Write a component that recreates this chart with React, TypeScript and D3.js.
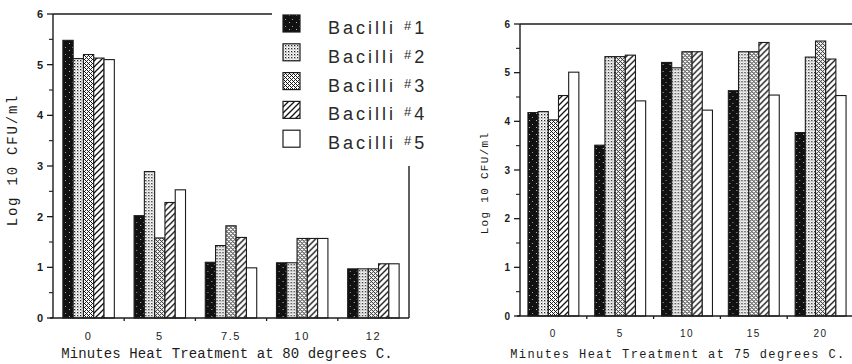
import React from 'react';
import * as d3 from 'd3';

// Series names and categories
const seriesNames = ['1', '2', '3', '4', '5'];
const minutes80 = ['0', '5', '7.5', '10', '12'];
const minutes75 = ['0', '5', '10', '15', '20'];
const yTicks = [0, 1, 2, 3, 4, 5, 6];

// Log 10 CFU/ml after heat treatment at 80 degrees C.
const bacilli1At80 = [5.48, 2.02, 1.10, 1.09, 0.97];
const bacilli2At80 = [5.12, 2.89, 1.43, 1.09, 0.97];
const bacilli3At80 = [5.20, 1.58, 1.82, 1.57, 0.97];
const bacilli4At80 = [5.13, 2.28, 1.59, 1.57, 1.07];
const bacilli5At80 = [5.10, 2.53, 0.99, 1.57, 1.07];

// Log 10 CFU/ml after heat treatment at 75 degrees C.
const bacilli1At75 = [4.18, 3.51, 5.21, 4.63, 3.77];
const bacilli2At75 = [4.20, 5.33, 5.10, 5.43, 5.32];
const bacilli3At75 = [4.03, 5.33, 5.43, 5.43, 5.65];
const bacilli4At75 = [4.53, 5.36, 5.43, 5.62, 5.28];
const bacilli5At75 = [5.01, 4.42, 4.23, 4.54, 4.53];

const INK = '#1c1c1c';
const fills = ['url(#pat1)', 'url(#pat2)', 'url(#pat3)', 'url(#pat4)', '#ffffff'];

type PanelProps = {
  cats: string[];
  series: number[][];
  x0: number;
  x1: number;
  yTop: number;
  yBottom: number;
  outerPad: number;
  yLabel: string;
  yLabelX: number;
  yLabelY: number;
  yLabelSize: number;
  yLabelSpacing: number;
  xTitle: string;
  xTitleX: number;
  xTitleY: number;
  xTitleSize: number;
  xTitleSpacing: number;
  tickFont: number;
  xTickY: number;
  rightBorderTop: number | null;
  topLineEnd: number;
};

function Panel(p: PanelProps) {
  const xBand = d3.scaleBand<string>().domain(p.cats).range([p.x0, p.x1]).padding(0);
  const xInner = d3
    .scaleBand<string>()
    .domain(seriesNames)
    .range([0, xBand.bandwidth()])
    .paddingInner(0)
    .paddingOuter(p.outerPad);
  const y = d3.scaleLinear().domain([0, 6]).range([p.yBottom, p.yTop]);
  const minor = d3.range(0.5, 6, 1);

  return (
    <g>
      {/* bars */}
      {p.cats.map((c, ci) => (
        <g key={c} transform={`translate(${xBand(c)},0)`}>
          {p.series.map((vals, si) => (
            <rect
              key={si}
              x={xInner(seriesNames[si])}
              y={y(vals[ci])}
              width={xInner.bandwidth()}
              height={y(0) - y(vals[ci])}
              fill={fills[si]}
              stroke={INK}
              strokeWidth={1.1}
            />
          ))}
        </g>
      ))}

      {/* frame */}
      <line x1={p.x0} x2={p.x0} y1={p.yTop} y2={p.yBottom} stroke={INK} strokeWidth={1.4} />
      <line x1={p.x0} x2={p.topLineEnd} y1={p.yTop} y2={p.yTop} stroke={INK} strokeWidth={1.4} />
      <line x1={p.x0 - 3} x2={p.x1} y1={p.yBottom} y2={p.yBottom} stroke={INK} strokeWidth={1.4} />
      {p.rightBorderTop !== null && (
        <line x1={p.x1} x2={p.x1} y1={p.rightBorderTop} y2={p.yBottom} stroke={INK} strokeWidth={1.4} />
      )}

      {/* y ticks */}
      {yTicks.map((t) => (
        <g key={t}>
          <line x1={p.x0 - 6} x2={p.x0} y1={y(t)} y2={y(t)} stroke={INK} strokeWidth={1.3} />
          <text
            x={p.x0 - 10}
            y={y(t)}
            dy="0.35em"
            textAnchor="end"
            fontFamily="Liberation Sans, Arial, sans-serif"
            fontSize={p.tickFont}
            fontWeight="bold"
            fill={INK}
          >
            {t}
          </text>
        </g>
      ))}
      {minor.map((t) => (
        <line key={t} x1={p.x0 - 4} x2={p.x0} y1={y(t)} y2={y(t)} stroke={INK} strokeWidth={1.1} />
      ))}

      {/* x ticks at category boundaries */}
      {p.cats.slice(1).map((c) => (
        <line
          key={c}
          x1={xBand(c)}
          x2={xBand(c)}
          y1={p.yBottom}
          y2={p.yBottom + 3}
          stroke={INK}
          strokeWidth={1.3}
        />
      ))}
      {p.cats.map((c) => (
        <text
          key={c}
          x={(xBand(c) as number) + xBand.bandwidth() / 2}
          y={p.xTickY}
          textAnchor="middle"
          fontFamily="Liberation Sans, Arial, sans-serif"
          fontSize={p.tickFont}
          letterSpacing={1.5}
          fill={INK}
        >
          {c}
        </text>
      ))}

      {/* titles */}
      <text
        x={p.xTitleX}
        y={p.xTitleY}
        textAnchor="middle"
        fontFamily="Liberation Mono, Courier New, monospace"
        fontSize={p.xTitleSize}
        letterSpacing={p.xTitleSpacing}
        fill={INK}
      >
        {p.xTitle}
      </text>
      <text
        transform={`translate(${p.yLabelX},${p.yLabelY}) rotate(-90)`}
        textAnchor="middle"
        fontFamily="Liberation Mono, Courier New, monospace"
        fontSize={p.yLabelSize}
        letterSpacing={p.yLabelSpacing}
        fill={INK}
      >
        {p.yLabel}
      </text>
    </g>
  );
}

export default function App() {
  const legendTop = 15;
  const legendStep = 28.8;
  return (
    <svg
      width={852}
      height={364}
      style={{ position: 'fixed', left: 0, top: 0, background: '#fff' }}
    >
      <defs>
        <pattern id="pat1" width="7" height="7" patternUnits="userSpaceOnUse">
          <rect width="7" height="7" fill="#111" />
          <rect x="2" y="1" width="1" height="1" fill="#bbb" />
          <rect x="5" y="5" width="1" height="1" fill="#999" />
        </pattern>
        <pattern id="pat2" width="3" height="3" patternUnits="userSpaceOnUse">
          <rect width="3" height="3" fill="#fff" />
          <rect x="0" y="0" width="1.3" height="1.3" fill="#222" />
          <rect x="1.5" y="1.5" width="0.9" height="0.9" fill="#555" />
        </pattern>
        <pattern id="pat3" width="4" height="4" patternUnits="userSpaceOnUse">
          <rect width="4" height="4" fill="#fff" />
          <rect x="0" y="0" width="1" height="1" fill="#111" />
          <rect x="1" y="1" width="1" height="1" fill="#111" />
          <rect x="2" y="2" width="1" height="1" fill="#111" />
          <rect x="3" y="3" width="1" height="1" fill="#111" />
          <rect x="2" y="0" width="1" height="1" fill="#333" />
          <rect x="0" y="2" width="1" height="1" fill="#333" />
        </pattern>
        <pattern id="pat4" width="6" height="6" patternUnits="userSpaceOnUse">
          <rect width="6" height="6" fill="#fff" />
          <path d="M-1,7 L7,-1 M-4,4 L4,-4 M2,10 L10,2" stroke="#111" strokeWidth="1.3" />
        </pattern>
      </defs>
      <rect width={852} height={364} fill="#fff" />

      <Panel
        cats={minutes80}
        series={[bacilli1At80, bacilli2At80, bacilli3At80, bacilli4At80, bacilli5At80]}
        x0={53}
        x1={409}
        yTop={14}
        yBottom={318}
        outerPad={0.96}
        yLabel="Log 10 CFU/ml"
        yLabelX={17}
        yLabelY={160}
        yLabelSize={14}
        yLabelSpacing={1.8}
        xTitle="Minutes Heat Treatment at 80 degrees C."
        xTitleX={227}
        xTitleY={358}
        xTitleSize={14}
        xTitleSpacing={0.1}
        tickFont={11}
        xTickY={340}
        rightBorderTop={166}
        topLineEnd={272}
      />

      <Panel
        cats={minutes75}
        series={[bacilli1At75, bacilli2At75, bacilli3At75, bacilli4At75, bacilli5At75]}
        x0={520}
        x1={854}
        yTop={24}
        yBottom={316}
        outerPad={0.78}
        yLabel="Log 10 CFU/ml"
        yLabelX={488}
        yLabelY={183}
        yLabelSize={11}
        yLabelSpacing={1.3}
        xTitle="Minutes Heat Treatment at 75 degrees C."
        xTitleX={678}
        xTitleY={358}
        xTitleSize={12}
        xTitleSpacing={1.4}
        tickFont={10}
        xTickY={337}
        rightBorderTop={null}
        topLineEnd={852}
      />

      {/* legend */}
      {seriesNames.map((s, i) => {
        const base = legendTop + i * legendStep;
        return (
          <g key={s}>
            <rect x={283} y={base} width={17} height={17} fill={fills[i]} stroke={INK} strokeWidth={1.2} />
            <text
              x={328}
              y={base + 19}
              fontFamily="Liberation Sans, Arial, sans-serif"
              fontSize={18}
              letterSpacing={3}
              fill="#2a2a2a"
            >
              Bacilli{' '}
              <tspan fontSize={13} dy={-4}>
                #
              </tspan>
              <tspan dy={4}>{s}</tspan>
            </text>
          </g>
        );
      })}
    </svg>
  );
}
